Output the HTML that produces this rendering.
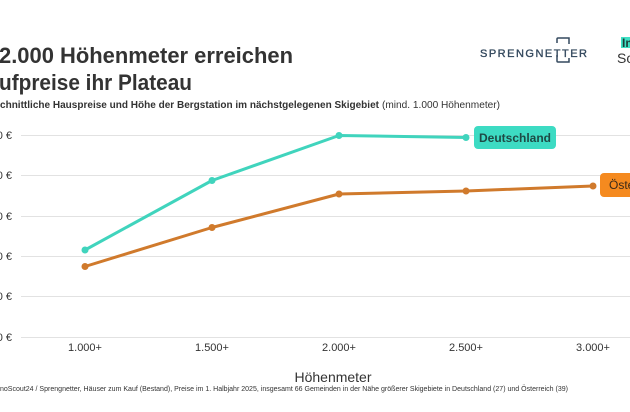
<!DOCTYPE html>
<html>
<head>
<meta charset="utf-8">
<style>
html,body{margin:0;padding:0;background:#fff;}
body{width:630px;height:412px;overflow:hidden;}
svg{display:block;font-family:"Liberation Sans",Arial,sans-serif;}
</style>
</head>
<body>
<svg width="630" height="412" viewBox="0 0 630 412" xmlns="http://www.w3.org/2000/svg">
  <rect width="630" height="412" fill="#fff"/>
  <!-- Title -->
  <text x="-1" y="63" font-size="22" font-weight="bold" fill="#333" textLength="294" lengthAdjust="spacingAndGlyphs">2.000 Höhenmeter erreichen</text>
  <text x="-1" y="90" font-size="22" font-weight="bold" fill="#333" textLength="193" lengthAdjust="spacingAndGlyphs">ufpreise ihr Plateau</text>
  <!-- Subtitle -->
  <text x="0" y="108" font-size="10" font-weight="bold" fill="#333" textLength="379" lengthAdjust="spacingAndGlyphs">chnittliche Hauspreise und Höhe der Bergstation im nächstgelegenen Skigebiet</text>
  <text x="382" y="108" font-size="10" fill="#333" textLength="118" lengthAdjust="spacingAndGlyphs">(mind. 1.000 Höhenmeter)</text>

  <!-- Sprengnetter logo -->
  <text x="480" y="57" font-size="11" fill="#34495e" stroke="#34495e" stroke-width="0.35" textLength="107" lengthAdjust="spacing">SPRENGNETTER</text>
  <path d="M557,43 L557,39 Q557,38 558,38 L569,38 L569,44" fill="none" stroke="#34495e" stroke-width="1.5"/>
  <path d="M557,55 L557,61 Q557,62 558,62 L569,62 L569,58" fill="none" stroke="#34495e" stroke-width="1.5"/>

  <!-- ImmoScout logo -->
  <rect x="621" y="37" width="12" height="11" fill="#3ee0c4"/>
  <text x="622" y="47" font-size="12" font-weight="bold" fill="#1d3b38">Im</text>
  <text x="617" y="63" font-size="14" fill="#333">Sc</text>

  <!-- Grid -->
  <g stroke="#e2e2e2" stroke-width="1">
    <line x1="21" y1="135.5" x2="630" y2="135.5"/>
    <line x1="21" y1="175.5" x2="630" y2="175.5"/>
    <line x1="21" y1="216.5" x2="630" y2="216.5"/>
    <line x1="21" y1="256.5" x2="630" y2="256.5"/>
    <line x1="21" y1="296.5" x2="630" y2="296.5"/>
    <line x1="21" y1="337.5" x2="630" y2="337.5"/>
  </g>
  <!-- Y labels -->
  <g font-size="11" fill="#333" text-anchor="end">
    <text x="12" y="139">0 €</text>
    <text x="12" y="179">0 €</text>
    <text x="12" y="220">0 €</text>
    <text x="12" y="260">0 €</text>
    <text x="12" y="300">0 €</text>
    <text x="12" y="341">0 €</text>
  </g>
  <!-- X labels -->
  <g font-size="11" fill="#333" text-anchor="middle">
    <text x="85" y="351">1.000+</text>
    <text x="212" y="351">1.500+</text>
    <text x="339" y="351">2.000+</text>
    <text x="466" y="351">2.500+</text>
    <text x="593" y="351">3.000+</text>
  </g>
  <text x="333" y="382" font-size="14" fill="#333" text-anchor="middle">Höhenmeter</text>

  <!-- Footnote -->
  <text x="0" y="391" font-size="7" fill="#333" textLength="568" lengthAdjust="spacingAndGlyphs">noScout24 / Sprengnetter, Häuser zum Kauf (Bestand), Preise im 1. Halbjahr 2025, insgesamt 66 Gemeinden in der Nähe größerer Skigebiete in Deutschland (27) und Österreich (39)</text>

  <!-- Austria series -->
  <polyline points="85,266.5 212,227.5 339,194 466,191 593,186" fill="none" stroke="#d07a2c" stroke-width="3" stroke-linejoin="round"/>
  <g fill="#d07a2c">
    <circle cx="85" cy="266.5" r="3.5"/>
    <circle cx="212" cy="227.5" r="3.5"/>
    <circle cx="339" cy="194" r="3.5"/>
    <circle cx="466" cy="191" r="3.5"/>
    <circle cx="593" cy="186" r="3.5"/>
  </g>
  <!-- Germany series -->
  <polyline points="85,250 212,180.5 339,135.5 466,137.5" fill="none" stroke="#40d4bd" stroke-width="3" stroke-linejoin="round"/>
  <g fill="#40d4bd">
    <circle cx="85" cy="250" r="3.5"/>
    <circle cx="212" cy="180.5" r="3.5"/>
    <circle cx="339" cy="135.5" r="3.5"/>
    <circle cx="466" cy="137.5" r="3.5"/>
  </g>

  <!-- Labels -->
  <rect x="474" y="126" width="82" height="23" rx="4" fill="#3ddbc3"/>
  <text x="515" y="142" font-size="12" font-weight="bold" fill="#1e4a45" text-anchor="middle">Deutschland</text>
  <rect x="600" y="173" width="60" height="24" rx="4" fill="#f58a1f"/>
  <text x="609" y="189" font-size="12" fill="#3a2a1a">Österreich</text>
</svg>
</body>
</html>
